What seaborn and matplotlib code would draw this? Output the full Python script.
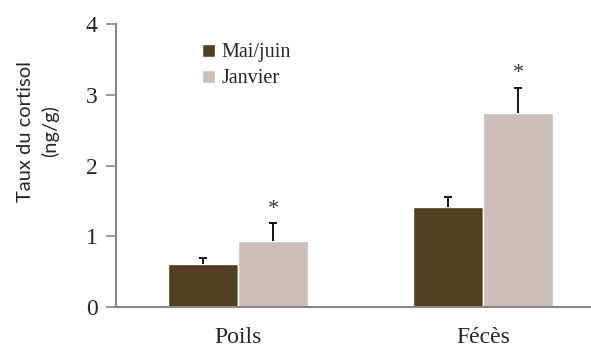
import numpy as np
import pandas as pd
import seaborn as sns
import matplotlib.pyplot as plt

# data
categories = ['Poils', 'Fécès']
seasons = ['Mai/juin', 'Janvier']
mai_juin = [0.61, 1.41]
janvier = [0.93, 2.74]
err_mai_juin = [0.08, 0.15]
err_janvier = [0.26, 0.36]
signif = ['', '*', '', '*']  # per bar: mai poils, janv poils, mai fécès, janv fécès

df = pd.DataFrame({
    'type': categories * 2,
    'saison': [seasons[0]] * 2 + [seasons[1]] * 2,
    'taux': mai_juin + janvier,
    'err': err_mai_juin + err_janvier,
})

sns.set_style('white')
plt.rcParams['font.family'] = ['Liberation Serif', 'DejaVu Serif']

fig = plt.figure(figsize=(5.91, 3.47), dpi=100)
ax = fig.add_axes([0.196, 0.115, 0.804, 0.816])

palette = {'Mai/juin': '#51401f', 'Janvier': '#cbbeb9'}
sns.barplot(data=df, x='type', y='taux', hue='saison', hue_order=seasons,
            order=categories, palette=palette, width=0.57, gap=0,
            errorbar=None, saturation=1, ax=ax)

# one-sided error bars (cap on top only) and stars, on the drawn bars
bars = [p for p in ax.patches if p.get_height() > 0]
bars = sorted(bars, key=lambda p: p.get_x())
lookup = {round(v, 3): e for v, e in zip(df['taux'], df['err'])}
for i, p in enumerate(bars):
    xc = p.get_x() + p.get_width() / 2
    h = p.get_height()
    e = lookup[round(h, 3)]
    ax.vlines(xc, h, h + e, color='black', lw=1.3)
    ax.hlines(h + e, xc - 0.016, xc + 0.016, color='black', lw=1.3)
    star = signif[i]
    if star:
        ax.text(xc, h + e + 0.06, star, ha='center', va='bottom',
                fontsize=16, color='#333333')

ax.set_ylim(0, 4)
ax.set_xlim(-0.5, 1.44)
ax.set_yticks([0, 1, 2, 3, 4])
ax.set_xlabel('')
ax.set_ylabel('Taux du cortisol\n(ng/g)', fontsize=14.5, family='Lato',
              linespacing=1.45)
ax.yaxis.set_label_coords(-0.12, 0.62)

for s in ['top', 'right']:
    ax.spines[s].set_visible(False)
for s in ['left', 'bottom']:
    ax.spines[s].set_color('#888888')
    ax.spines[s].set_linewidth(1.5)
ax.tick_params(axis='y', which='both', left=True, length=7, width=1.2,
               color='#888888', labelsize=17, pad=6)
ax.tick_params(axis='x', bottom=False, labelsize=17, pad=11)

leg = ax.legend(loc='upper left', bbox_to_anchor=(0.165, 0.96), frameon=False,
                prop={'family': 'Liberation Serif', 'size': 14.5},
                handlelength=0.65, handleheight=0.65,
                handletextpad=0.3, labelspacing=0.35, borderaxespad=0)

fig.savefig('out.png', dpi=100)
